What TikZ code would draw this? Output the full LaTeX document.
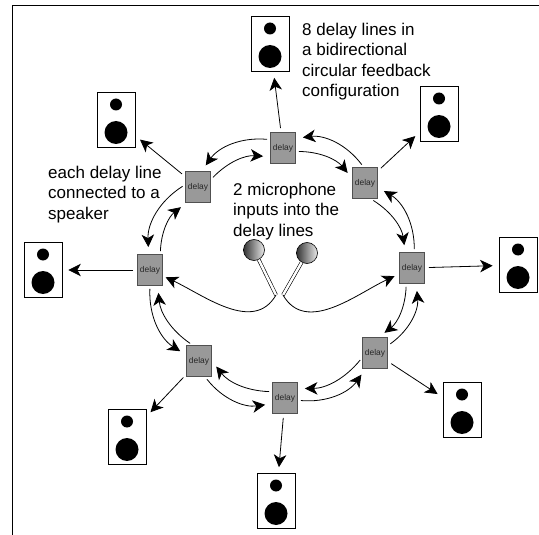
\documentclass[tikz,border=0pt]{standalone}
\usepackage{fontspec}
\setmainfont{Liberation Sans}
\usepackage{tikz}
\usetikzlibrary{arrows.meta}
\definecolor{delayfill}{HTML}{999999}
\definecolor{delayline}{HTML}{505050}

\begin{document}
\begin{tikzpicture}[x=1pt, y=-1pt]
\tikzstyle{delay}=[rectangle, draw=delayline, fill=delayfill, line width=0.8pt, minimum width=25pt, minimum height=31pt, inner sep=0pt, font=\fontsize{8.4}{10}\selectfont, text=black!85]
\tikzstyle{speaker}=[rectangle, draw, fill=white, line width=0.7pt, minimum width=38pt, minimum height=55pt, inner sep=0pt,
  path picture={\fill[black] ([yshift=15.5pt]path picture bounding box.center) circle [radius=6pt];
                \fill[black] ([yshift=-12.5pt]path picture bounding box.center) circle [radius=11.5pt];}]
\tikzstyle{mic}=[circle, draw, line width=0.6pt, minimum size=21pt, inner sep=0pt, left color=black!80, right color=black!8]
\tikzstyle{stem}=[line width=0.6pt, double=white, double distance=2.4pt]
\tikzstyle{flow}=[-{Stealth[length=12.5pt, width=12.5pt, inset=3.5pt]}, line width=0.8pt, shorten <=3pt, shorten >=7pt]
\tikzstyle{feed}=[flow, shorten <=4pt, shorten >=6pt]
\tikzstyle{caption}=[anchor=north west, inner sep=0pt, align=left, font=\fontsize{17}{20.4}\selectfont]

\useasboundingbox (0,0) rectangle (539,535);
\draw[line width=0.8pt] (12,535) -- (12,5) -- (539,5);

% delay lines
\node[delay] (T) at (283,148) {delay};
\node[delay] (UR) at (365,183) {delay};
\node[delay] (R) at (412,268) {delay};
\node[delay] (LR) at (375,353) {delay};
\node[delay] (B) at (285,398) {delay};
\node[delay] (LL) at (199,361) {delay};
\node[delay] (L) at (150,270) {delay};
\node[delay] (UL) at (198,187) {delay};

% speakers
\node[speaker] (ST) at (270,44) {};
\node[speaker] (SUR) at (439,114) {};
\node[speaker] (SR) at (518,265) {};
\node[speaker] (SLR) at (462,410) {};
\node[speaker] (SB) at (276,501) {};
\node[speaker] (SLL) at (127,437) {};
\node[speaker] (SL) at (43,270) {};
\node[speaker] (SUL) at (116,120) {};

\path[feed] (T) edge (ST)
(UR) edge (SUR)
(R) edge (SR)
(LR) edge (SLR)
(B) edge (SB)
(LL) edge (SLL)
(L) edge (SL)
(UL) edge (SUL);

% inner ring, clockwise
\path[flow] (T.-15) edge[bend left=25] (UR.160)
(UR.-70) edge[bend left=25] (R.113)
(R.-110) edge[bend left=25] (LR.76)
(LR.-160) edge[bend left=25] (B.36)
(B.154) edge[bend left=25] (LL.0)
(LL.112) edge[bend left=25] (L.-64)
(L.57) edge[bend left=25] (UL.-126)
(UL.30) edge[bend left=25] (T.214);

% outer ring, counter-clockwise
\path[flow] (UR.95) edge[bend right=30] (T.37)
(R.82) edge[bend right=30] (UR.-19)
(LR.30) edge[bend right=30] (R.-75)
(B.-10) edge[bend right=30] (LR.-121)
(LL.-69) edge[bend right=30] (B.-156)
(L.-90) edge[bend right=30] (LL.155)
(UL.170) edge[bend right=30] (L.95)
(T.147) edge[bend right=30] (UL.77);

% microphones
\node[mic] (ML) at (254,250) {};
\node[mic] (MR) at (307,253) {};
\coordinate (J1) at (276,295);
\coordinate (J2) at (283,295);
\draw[stem] (ML) -- (J1);
\draw[stem] (MR) -- (J2);
\draw[flow, shorten <=0pt, shorten >=3pt] (J1) to[out=-120, in=-25] (L);
\draw[flow, shorten <=0pt, shorten >=5pt] (J2) to[out=-60, in=-155] (R);

\node[caption] (ring) at (302,23) {8 delay lines in\\a bidirectional\\circular feedback\\configuration};
\node[caption] (each) at (48,166) {each delay line\\connected to a\\speaker};
\node[caption] (inputs) at (233,183) {2 microphone\\inputs into the\\delay lines};
\end{tikzpicture}
\end{document}
